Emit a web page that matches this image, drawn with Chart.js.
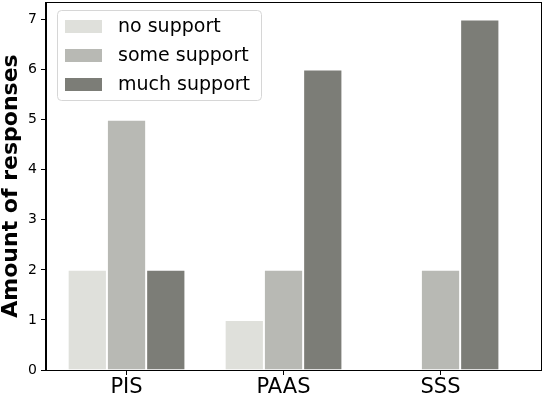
<!DOCTYPE html>
<html>
<head>
<meta charset="utf-8">
<script src="https://cdn.jsdelivr.net/npm/chart.js@4/dist/chart.umd.min.js"></script>
<style>
  html, body { margin: 0; padding: 0; background: #fff; }
  #wrap { width: 544px; height: 397px; }
</style>
</head>
<body>
<div id="wrap"><canvas id="chart"></canvas></div>
<script>
'use strict';

// data
const categories = ['PIS', 'PAAS', 'SSS'];
const noSupport = [2, 1, 0];
const someSupport = [5, 2, 2];
const muchSupport = [2, 6, 7];
const yTicks = [0, 1, 2, 3, 4, 5, 6, 7];

const seriesNames = ['no support', 'some support', 'much support'];
const seriesColors = ['#dfe0db', '#b8b9b4', '#7c7d77'];

function toPoints(values) {
    return values.map((v, i) => ({ x: i, y: v }));
}

// black frame round the plot area
const framePlugin = {
    id: 'frame',
    afterDraw(chart) {
        const a = chart.chartArea;
        const ctx = chart.ctx;
        ctx.save();
        ctx.strokeStyle = '#000';
        ctx.lineWidth = 1;
        ctx.strokeRect(Math.round(a.left) - 0.5, Math.round(a.top) + 0.5,
            Math.round(a.right - a.left) + 1, Math.round(a.bottom - a.top));
        ctx.restore();
    }
};

// matplotlib style legend box inside the plot
const boxLegend = {
    id: 'boxLegend',
    afterDraw(chart) {
        const ctx = chart.ctx;
        const a = chart.chartArea;
        const x = a.left + 11, y = a.top + 8;
        const w = 204, h = 90;
        ctx.save();
        ctx.beginPath();
        ctx.roundRect(x + 0.5, y + 0.5, w, h, 4);
        ctx.fillStyle = 'rgba(255,255,255,0.8)';
        ctx.fill();
        ctx.strokeStyle = '#d6d6d6';
        ctx.lineWidth = 1;
        ctx.stroke();
        ctx.font = '19px "DejaVu Sans"';
        ctx.textBaseline = 'middle';
        chart.data.datasets.forEach((ds, i) => {
            const cy = y + 17 + i * 29;
            ctx.fillStyle = ds.backgroundColor;
            ctx.fillRect(x + 8, cy - 7, 37, 13);
            ctx.fillStyle = '#000';
            ctx.fillText(ds.label, x + 61, cy);
        });
        ctx.restore();
    }
};

const datasets = [noSupport, someSupport, muchSupport].map((vals, i) => ({
    label: seriesNames[i],
    data: toPoints(vals),
    backgroundColor: seriesColors[i],
    borderColor: '#ffffff',
    borderWidth: 1,
    borderSkipped: 'start',
    categoryPercentage: 0.75,
    barPercentage: 1.0
}));

new Chart(document.getElementById('chart'), {
    type: 'bar',
    data: { datasets: datasets },
    plugins: [framePlugin, boxLegend],
    options: {
        responsive: true,
        maintainAspectRatio: false,
        animation: false,
        layout: { padding: { top: 2, right: 3, left: 0, bottom: 0 } },
        plugins: {
            legend: { display: false },
            tooltip: { enabled: false }
        },
        scales: {
            x: {
                type: 'linear',
                offset: false,
                min: -0.513,
                max: 2.64,
                afterBuildTicks(scale) {
                    scale.ticks = categories.map((c, i) => ({ value: i }));
                },
                afterFit(scale) {
                    scale.height = 27;
                    scale.paddingLeft = 0;
                    scale.paddingRight = 0;
                },
                ticks: {
                    callback: (v) => categories[v] || '',
                    color: '#000',
                    font: { family: 'DejaVu Sans', size: 21 },
                    padding: 0,
                    maxRotation: 0,
                    autoSkip: false
                },
                grid: {
                    display: true,
                    offset: false,
                    drawOnChartArea: false,
                    drawTicks: true,
                    tickLength: 5,
                    color: '#000'
                },
                border: { display: true, color: '#000', width: 1 }
            },
            y: {
                min: 0,
                max: 7.35,
                afterBuildTicks(scale) {
                    scale.ticks = yTicks.map(v => ({ value: v }));
                },
                afterFit(scale) {
                    scale.width = 46;
                    scale.paddingTop = 0;
                    scale.paddingBottom = 0;
                },
                ticks: {
                    color: '#000',
                    font: { family: 'DejaVu Sans', size: 14 },
                    padding: 4
                },
                grid: {
                    display: true,
                    drawOnChartArea: false,
                    drawTicks: true,
                    tickLength: 5,
                    color: '#000'
                },
                border: { display: true, color: '#000', width: 1 },
                title: {
                    display: true,
                    text: 'Amount of responses',
                    color: '#000',
                    font: { family: 'DejaVu Sans', size: 22, weight: 'bold', lineHeight: 1 },
                    padding: { top: 0, bottom: 0 }
                }
            }
        }
    }
});
</script>
</body>
</html>
